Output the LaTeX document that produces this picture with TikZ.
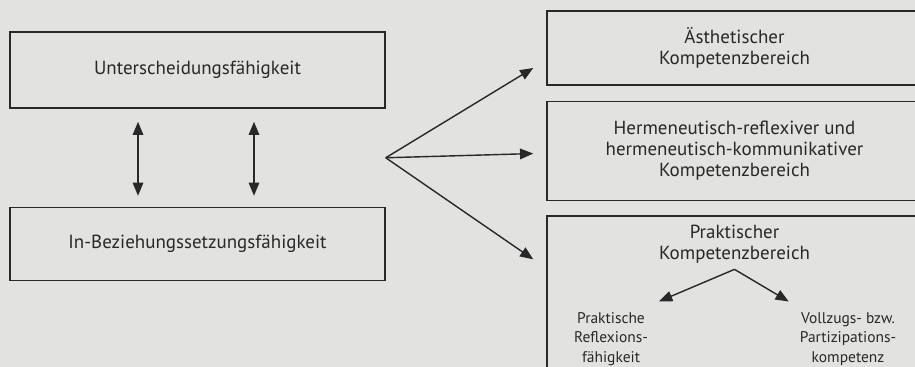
\documentclass[tikz,border=0pt]{standalone}
\usepackage{fontspec}
\setmainfont{PT Sans}
\usetikzlibrary{arrows.meta, positioning, calc}
\definecolor{paper}{RGB}{226,226,224}
\definecolor{ink}{RGB}{40,40,40}

\begin{document}
\begin{tikzpicture}[
        x=0.02cm, y=-0.02cm,
        skillbox/.style={
            rectangle,
            draw=ink,
            line width=0.9pt,
            minimum width=7.5cm,
            inner sep=0pt,
            align=center,
            text=ink,
            font=\fontsize{10.8}{12}\selectfont
        },
        title/.style={
            align=center,
            text=ink,
            font=\fontsize{10.8}{12}\selectfont
        },
        subtext/.style={
            align=center,
            text=ink,
            font=\fontsize{8.8}{11}\selectfont
        },
        arrow/.style={
            -{Triangle[length=7.5pt, width=6pt]},
            line width=0.8pt,
            draw=ink
        },
        dblarrow/.style={
            {Triangle[length=7.5pt, width=6pt]}-{Triangle[length=7.5pt, width=6pt]},
            line width=0.9pt,
            draw=ink
        }
    ]

    \useasboundingbox (0,0) rectangle (915,367);
    \fill[paper] (0,0) rectangle (915,367);
    \clip (0,0) rectangle (915,367);

    % Left column
    \node[skillbox, minimum height=1.52cm] (unter) at (197.5,70) {Unterscheidungsfähigkeit};
    \node[skillbox, minimum height=1.46cm, below=1.96cm of unter] (bezieh) {In-Beziehungssetzungsfähigkeit};

    % Arrows between the two boxes
    \draw[dblarrow, shorten <=0.26cm, shorten >=0.22cm]
        ([xshift=-1.19cm]unter.south) -- ([xshift=-1.19cm]bezieh.north);
    \draw[dblarrow, shorten <=0.26cm, shorten >=0.22cm]
        ([xshift=1.13cm]unter.south) -- ([xshift=1.13cm]bezieh.north);

    % Right column
    \node[skillbox, minimum height=1.48cm] (aesth) at (734.5,48) {Ästhetischer\\Kompetenzbereich};
    \node[skillbox, minimum height=1.98cm, below=0.3cm of aesth] (herm) {Hermeneutisch-reflexiver und\\hermeneutisch-kommunikativer\\Kompetenzbereich};
    \node[skillbox, minimum height=3.3cm, below=0.28cm of herm] (prakt) {};
    \node[title] (praktitle) at (734.5,244) {Praktischer\\Kompetenzbereich};
    \node[subtext] (reflex) at (611,339) {Praktische\\Reflexions-\\fähigkeit};
    \node[subtext] (vollzug) at (848,339) {Vollzugs- bzw.\\Partizipations-\\kompetenz};

    % Fan from the left column
    \coordinate (fan) at ($(unter.south east)!0.5!(bezieh.north east)$);
    \draw[arrow] (fan) -- ([shift={(-0.26cm,-0.4cm)}]aesth.west);
    \draw[arrow] (fan) -- ([shift={(-0.26cm,-0.05cm)}]herm.west);
    \draw[arrow] (fan) -- ([shift={(-0.26cm,-0.88cm)}]prakt.north west);

    % Practical sub-areas
    \draw[arrow] (praktitle.south) -- ([shift={(0.1cm,0.1cm)}]reflex.north east);
    \draw[arrow] (praktitle.south) -- ([shift={(-0.1cm,0.1cm)}]vollzug.north west);

\end{tikzpicture}
\end{document}
